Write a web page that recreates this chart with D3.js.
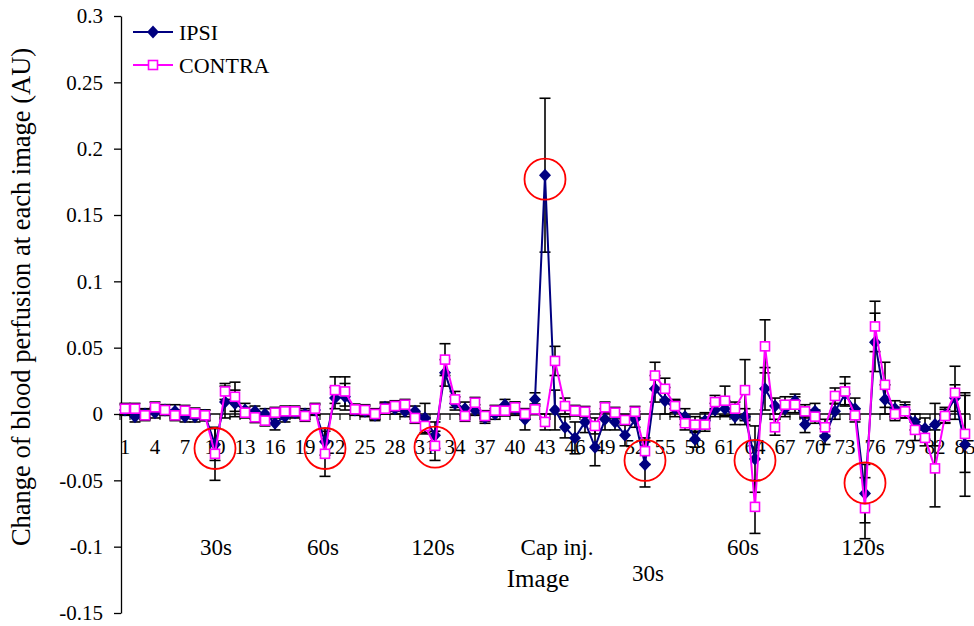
<!DOCTYPE html>
<html>
<head>
<meta charset="utf-8">
<script src="https://cdn.jsdelivr.net/npm/d3@7"></script>
<style>
  html, body { margin: 0; padding: 0; background: #fff; }
  svg { display: block; }
  text { font-family: "Liberation Serif", "Times New Roman", serif; fill: #000; }
</style>
</head>
<body>
<svg id="chart" width="974" height="626"></svg>
<script>
// Image numbers along the category axis
const categories = [1,2,3,4,5,6,7,8,9,10,11,12,13,14,15,16,17,18,19,20,
  21,22,23,24,25,26,27,28,29,30,31,32,33,34,35,36,37,38,39,40,
  41,42,43,44,45,46,47,48,49,50,51,52,53,54,55,56,57,58,59,60,
  61,62,63,64,65,66,67,68,69,70,71,72,73,74,75,76,77,78,79,80,
  81,82,83,84,85];

// Labelled categories (every third image)
const xTickLabels = [1,4,7,10,13,16,19,22,25,28,31,34,37,40,43,46,49,52,55,58,61,64,67,70,73,76,79,82,85];

// Value axis ticks
const yTicks = [0.3,0.25,0.2,0.15,0.1,0.05,0,-0.05,-0.1,-0.15];
const yTickLabels = ["0.3","0.25","0.2","0.15","0.1","0.05","0","-0.05","-0.1","-0.15"];

// Mean change of blood perfusion, ipsilateral side
const ipsi = [0.003,-0.002,0.000,0.001,0.003,0.002,-0.002,-0.002,-0.001,-0.023,
  0.009,0.008,0.003,0.002,0.000,-0.007,-0.002,0.001,0.000,0.003,
  -0.021,0.012,0.013,0.003,0.002,-0.001,0.005,0.004,0.002,0.002,
  -0.003,-0.016,0.031,0.008,0.004,0.003,-0.003,0.000,0.007,0.004,
  -0.004,0.011,0.180,0.003,-0.010,-0.018,-0.006,-0.025,-0.004,-0.006,
  -0.016,-0.004,-0.038,0.019,0.010,0.004,-0.002,-0.019,-0.005,0.003,
  0.004,-0.002,-0.002,-0.034,0.019,0.006,0.004,0.010,-0.008,0.002,
  -0.017,0.002,0.015,0.004,-0.060,0.054,0.011,0.004,0.003,-0.006,
  -0.011,-0.008,-0.001,0.012,-0.023];

// Error (one standard error), ipsilateral side
const ipsiErr = [0.004,0.004,0.004,0.004,0.004,0.005,0.004,0.004,0.004,0.012,
  0.012,0.010,0.005,0.004,0.004,0.005,0.004,0.004,0.004,0.004,
  0.010,0.008,0.010,0.004,0.004,0.004,0.004,0.004,0.004,0.004,
  0.011,0.010,0.010,0.005,0.005,0.004,0.004,0.004,0.004,0.005,
  0.008,0.005,0.058,0.015,0.008,0.012,0.008,0.014,0.008,0.006,
  0.008,0.006,0.017,0.010,0.010,0.006,0.006,0.006,0.006,0.005,
  0.006,0.006,0.006,0.025,0.016,0.006,0.006,0.005,0.006,0.006,
  0.006,0.006,0.008,0.008,0.022,0.022,0.011,0.006,0.006,0.006,
  0.008,0.016,0.006,0.010,0.039];

// Mean change of blood perfusion, contralateral side
const contra = [0.004,0.004,-0.001,0.005,0.003,-0.001,0.0025,0.0005,-0.001,-0.030,
  0.017,0.013,0.001,-0.0025,-0.005,0.001,0.002,0.002,-0.0015,0.004,
  -0.030,0.018,0.017,0.0035,0.003,0.000,0.004,0.006,0.007,-0.003,
  -0.009,-0.024,0.041,0.011,-0.0015,0.0085,-0.0015,0.0025,0.0025,0.005,
  0.000,0.0035,-0.006,0.040,0.006,0.0025,0.0017,-0.009,0.005,0.001,
  -0.0045,0.0017,-0.028,0.029,0.019,0.006,-0.007,-0.008,-0.008,0.009,
  0.010,0.004,0.018,-0.070,0.051,-0.010,0.007,0.007,0.002,-0.002,
  -0.010,0.0136,0.017,-0.001,-0.071,0.066,0.022,0.000,0.002,-0.012,
  -0.018,-0.041,-0.0015,0.016,-0.015];

// Error (one standard error), contralateral side
const contraErr = [0.004,0.004,0.004,0.004,0.004,0.004,0.004,0.004,0.004,0.020,
  0.006,0.011,0.004,0.004,0.004,0.004,0.004,0.004,0.004,0.004,
  0.017,0.010,0.011,0.004,0.004,0.004,0.004,0.004,0.004,0.004,
  0.006,0.011,0.012,0.006,0.004,0.004,0.004,0.004,0.004,0.004,
  0.004,0.004,0.006,0.011,0.006,0.004,0.004,0.006,0.004,0.004,
  0.004,0.004,0.010,0.010,0.008,0.005,0.005,0.006,0.005,0.005,
  0.011,0.005,0.023,0.020,0.020,0.006,0.006,0.006,0.005,0.005,
  0.006,0.006,0.011,0.005,0.023,0.019,0.017,0.005,0.005,0.008,
  0.006,0.029,0.005,0.020,0.029];

// Stimulus annotations under the axis: text, category position, row
const stimLabels = ["30s","60s","120s","Cap inj.","30s","60s","120s"];
const stimAt = [10.1,20.8,31.8,44.2,53.3,62.8,74.8];
const stimRow = [0,0,0,0,1,0,0];

// Highlighted responses: category and value
const circleCat = [10,21,32,43,53,64,75];
const circleVal = [-0.026,-0.026,-0.025,0.177,-0.035,-0.035,-0.052];

const seriesNames = ["IPSI","CONTRA"];

const svg = d3.select("#chart");

const x = d3.scaleBand().domain(categories).range([120, 970]).padding(0);
const cx = c => x(c) + x.bandwidth() / 2;
const xc = d3.scaleLinear().domain([1, 85]).range([cx(1), cx(85)]);
const y = d3.scaleLinear().domain([-0.15, 0.3]).range([613, 16]);

// Value axis
const yAxis = d3.axisLeft(y)
  .tickValues(yTicks)
  .tickFormat((d, i) => yTickLabels[i])
  .tickSize(7)
  .tickSizeOuter(0);
const gy = svg.append("g").attr("transform", "translate(121,0)").call(yAxis);
gy.select(".domain").attr("stroke", "#000").attr("stroke-width", 1.3);
gy.selectAll(".tick line").attr("stroke", "#000").attr("stroke-width", 1.3);
gy.selectAll(".tick text")
  .attr("x", -18)
  .style("font-family", "'Liberation Serif', serif")
  .style("font-size", "21px")
  .attr("fill", "#000");

// Category axis crossing at zero, tick marks between categories
const boundaries = categories.map(c => x(c)).concat([x(85) + x.bandwidth()]);
const gx = svg.append("g").attr("class", "x-axis");
gx.append("line")
  .attr("x1", 121).attr("x2", 970)
  .attr("y1", y(0)).attr("y2", y(0))
  .attr("stroke", "#000").attr("stroke-width", 1.3);
gx.selectAll("line.tk").data(boundaries).join("line")
  .attr("class", "tk")
  .attr("x1", d => d).attr("x2", d => d)
  .attr("y1", y(0)).attr("y2", y(0) + 6)
  .attr("stroke", "#000").attr("stroke-width", 1.1);
gx.selectAll("text").data(xTickLabels).join("text")
  .attr("x", d => cx(d))
  .attr("y", y(0) + 40)
  .attr("text-anchor", "middle")
  .style("font-size", "21px")
  .text(d => d);

// Axis titles
svg.append("text")
  .attr("transform", "translate(30,297) rotate(-90)")
  .attr("text-anchor", "middle")
  .style("font-size", "26.5px")
  .text("Change of blood perfusion at each image (AU)");
svg.append("text")
  .attr("x", 538).attr("y", 587)
  .attr("text-anchor", "middle")
  .style("font-size", "25px")
  .text("Image");

// Stimulus labels
svg.selectAll("text.stim").data(stimLabels).join("text")
  .attr("class", "stim")
  .attr("x", (d, i) => xc(stimAt[i]))
  .attr("y", (d, i) => stimRow[i] ? 581 : 555)
  .attr("text-anchor", "middle")
  .style("font-size", "23px")
  .text(d => d);

const seriesData = [
  { name: seriesNames[0], values: ipsi, err: ipsiErr, color: "#000080" },
  { name: seriesNames[1], values: contra, err: contraErr, color: "#ff00ff" }
];

// Error bars
const errG = svg.append("g");
seriesData.forEach(s => {
  s.values.forEach((v, i) => {
    const c = categories[i], e = s.err[i];
    const px = cx(c), y1 = y(v + e), y2 = y(v - e);
    errG.append("line").attr("x1", px).attr("x2", px).attr("y1", y1).attr("y2", y2)
      .attr("stroke", "#000").attr("stroke-width", 1.6);
    [y1, y2].forEach(yy => errG.append("line")
      .attr("x1", px - 5.5).attr("x2", px + 5.5).attr("y1", yy).attr("y2", yy)
      .attr("stroke", "#000").attr("stroke-width", 1.6));
  });
});

const line = d3.line().x((d, i) => cx(categories[i])).y(d => y(d));

// IPSI series
svg.append("path").datum(ipsi).attr("d", line)
  .attr("fill", "none").attr("stroke", seriesData[0].color).attr("stroke-width", 2);
const diamond = "M0,-6.5L6,0L0,6.5L-6,0Z";
svg.append("g").selectAll("path").data(ipsi).join("path")
  .attr("d", diamond)
  .attr("transform", (d, i) => `translate(${cx(categories[i])},${y(d)})`)
  .attr("fill", seriesData[0].color);

// CONTRA series
svg.append("path").datum(contra).attr("d", line)
  .attr("fill", "none").attr("stroke", seriesData[1].color).attr("stroke-width", 2);
svg.append("g").selectAll("rect").data(contra).join("rect")
  .attr("x", (d, i) => cx(categories[i]) - 4.5)
  .attr("y", d => y(d) - 4.5)
  .attr("width", 9).attr("height", 9)
  .attr("fill", "#fff").attr("stroke", seriesData[1].color).attr("stroke-width", 1.6);

// Highlight circles
svg.append("g").selectAll("circle").data(circleCat).join("circle")
  .attr("cx", d => cx(d))
  .attr("cy", (d, i) => y(circleVal[i]))
  .attr("r", 20.5)
  .attr("fill", "none").attr("stroke", "#ff0000").attr("stroke-width", 1.8);

// Legend
const lg = svg.append("g").attr("transform", "translate(133,32)");
seriesData.forEach((s, i) => {
  const row = lg.append("g").attr("transform", `translate(0,${i * 33})`);
  row.append("line").attr("x1", 0).attr("x2", 40).attr("y1", 0).attr("y2", 0)
    .attr("stroke", s.color).attr("stroke-width", 2);
  if (i === 0) {
    row.append("path").attr("d", diamond).attr("transform", "translate(20,0)").attr("fill", s.color);
  } else {
    row.append("rect").attr("x", 15.5).attr("y", -4.5).attr("width", 9).attr("height", 9)
      .attr("fill", "#fff").attr("stroke", s.color).attr("stroke-width", 1.6);
  }
  row.append("text").attr("x", 46).attr("y", 7.5)
    .style("font-size", "22px")
    .text(s.name);
});
</script>
</body>
</html>
